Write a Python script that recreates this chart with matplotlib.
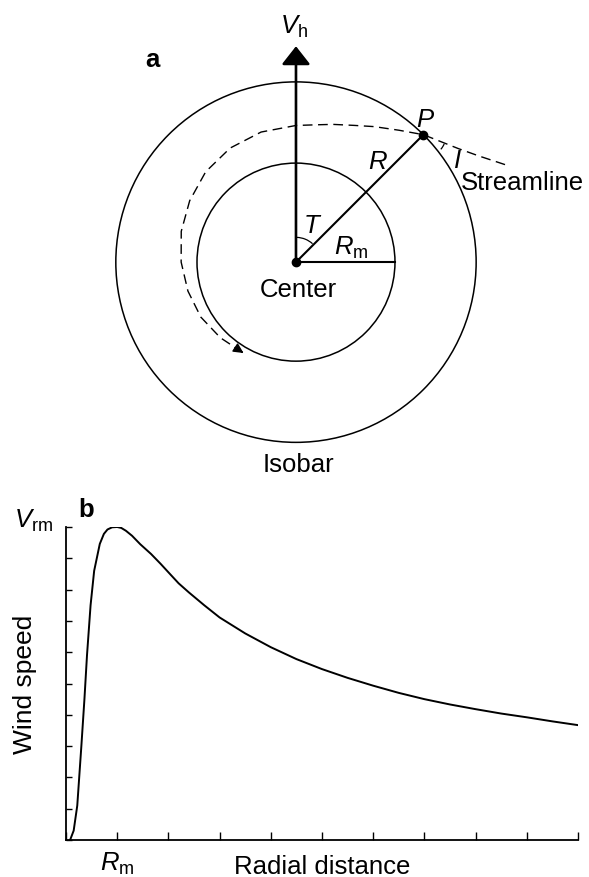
import matplotlib.pyplot as plt
import numpy as np
from matplotlib.patches import Circle, Arc

plt.rcParams['font.family'] = ['Liberation Sans', 'DejaVu Sans']
plt.rcParams['mathtext.fontset'] = 'custom'
plt.rcParams['mathtext.rm'] = 'Liberation Sans'
plt.rcParams['mathtext.it'] = 'Liberation Sans:italic'

# panel a: geometry in units of R_m
r_inner = 1.0
r_outer = 1.82
angle_p = 45       # position of P on the outer isobar (deg)
vh_length = 2.18   # length of the V_h arrow

# dashed streamline spiralling in (polar: angle in deg, radius in R_m)
stream_angle = [25, 30, 35, 45, 52, 60, 67, 75, 82, 90, 105, 120, 135, 150, 165, 180, 195,
                210, 225, 240]
stream_radius = [2.33, 2.14, 2.0, 1.82, 1.69, 1.58, 1.50, 1.44, 1.40, 1.38, 1.36, 1.33, 1.29,
                 1.24, 1.20, 1.16, 1.13, 1.11, 1.08, 1.06]

# panel b: wind speed profile (x in R_m, y as fraction of V_rm)
radial_dist = [0.08, 0.15, 0.22, 0.30, 0.36, 0.41, 0.48, 0.55, 0.66, 0.74, 0.81, 0.90, 1.0,
               1.08, 1.17, 1.29, 1.45, 1.66, 1.85, 2.03, 2.2, 2.4, 2.7, 3.0, 3.5, 4.0, 4.5,
               5.0, 5.5, 6.0, 6.5, 7.0, 7.5, 8.0, 8.5, 9.0, 9.5, 10.0]
wind_speed = [0.0, 0.03, 0.11, 0.30, 0.45, 0.59, 0.75, 0.86, 0.946, 0.978, 0.992, 0.999, 1.0,
              0.997, 0.988, 0.972, 0.945, 0.914, 0.882, 0.85, 0.82, 0.791, 0.75, 0.711, 0.66,
              0.616, 0.578, 0.546, 0.518, 0.493, 0.47, 0.45, 0.433, 0.418, 0.404, 0.392,
              0.379, 0.367]

x_ticks = np.arange(0, 11)
y_ticks = np.arange(0, 11) / 10

fs = 18.5

fig = plt.figure(figsize=(5.89, 8.78), dpi=100)

# ---------------- panel a ----------------
ax = fig.add_axes([0, 398 / 878, 1, 480 / 878])
ax.set_xlim(-2.99, 2.96)
ax.set_ylim(-2.19, 2.657)
ax.axis('off')

ax.add_patch(Circle((0, 0), r_inner, fill=False, lw=1.1, color='black'))
ax.add_patch(Circle((0, 0), r_outer, fill=False, lw=1.1, color='black'))

ax.annotate('', xy=(0, vh_length), xytext=(0, 0),
            arrowprops=dict(arrowstyle='-|>,head_length=0.7,head_width=0.55', lw=1.9,
                            mutation_scale=16, color='black', shrinkA=0, shrinkB=0))

px = r_outer * np.cos(np.radians(angle_p))
py = r_outer * np.sin(np.radians(angle_p))
ax.plot([0, px], [0, py], color='black', lw=1.5)
ax.plot([0, r_inner], [0, 0], color='black', lw=1.5)
ax.plot([0, px], [0, py], 'o', color='black', ms=6)

th = np.radians(stream_angle)
sx = np.array(stream_radius) * np.cos(th)
sy = np.array(stream_radius) * np.sin(th)
ax.plot(sx, sy, color='black', lw=1.0, ls=(0, (7, 4)))
d = np.array([sx[-1] - sx[-2], sy[-1] - sy[-2]])
d = d / np.hypot(*d)
ax.annotate('', xy=(sx[-1], sy[-1]), xytext=(sx[-1] - 0.1 * d[0], sy[-1] - 0.1 * d[1]),
            arrowprops=dict(arrowstyle='-|>,head_length=0.6,head_width=0.3', lw=1.0,
                            mutation_scale=10, color='black', shrinkA=0, shrinkB=0))

# angle marks
ax.add_patch(Arc((0, 0), 0.5, 0.5, theta1=48, theta2=88, lw=0.9, color='black'))
ax.add_patch(Arc((px, py), 0.46, 0.46, theta1=-40, theta2=-24, lw=0.9, color='black'))

ax.text(-0.16, 2.32, r'$V_{\rm h}$', fontsize=fs, ha='left', va='baseline')
ax.text(-1.45, 2.05, 'a', fontsize=fs, fontweight='bold', ha='center', va='center')
ax.text(1.21, 1.37, 'P', fontsize=fs, style='italic', ha='left', va='baseline')
ax.text(0.82, 1.02, 'R', fontsize=fs, style='italic', ha='center', va='center')
ax.text(0.16, 0.37, 'T', fontsize=fs, style='italic', ha='center', va='center')
ax.text(0.38, 0.08, r'$R_{\rm m}$', fontsize=fs, ha='left', va='baseline')
ax.text(0.02, -0.34, 'Center', fontsize=fs, ha='center', va='baseline')
ax.text(1.63, 1.03, 'I', fontsize=fs, style='italic', ha='center', va='center')
ax.text(1.67, 0.74, 'Streamline', fontsize=fs, ha='left', va='baseline')
ax.text(0.02, -2.11, 'Isobar', fontsize=fs, ha='center', va='baseline')

# ---------------- panel b ----------------
bx = fig.add_axes([66 / 589, 37 / 878, 512 / 589, 313 / 878])
bx.plot(radial_dist, wind_speed, color='black', lw=1.4)
bx.set_xlim(0, 10)
bx.set_ylim(0, 1)
bx.spines[['top', 'right']].set_visible(False)
bx.spines[['left', 'bottom']].set_linewidth(1.3)

bx.set_xticks(x_ticks, ['', r'$R_{\rm m}$'] + [''] * 9)
bx.set_yticks(y_ticks, [''] * 11)
bx.tick_params(axis='x', direction='in', length=5.5, width=1, pad=7, labelsize=fs)
bx.tick_params(axis='y', direction='in', length=4, width=1)

bx.text(-0.025, 1.0, r'$V_{\rm rm}$', fontsize=fs, ha='right', va='baseline',
        transform=bx.get_yaxis_transform())
bx.text(0.039, 1.057, 'b', fontsize=fs, fontweight='bold', ha='center', va='center',
        transform=bx.transAxes)
bx.text(-0.08, 0.5, 'Wind speed', fontsize=19, rotation=90, ha='center', va='center',
        transform=bx.transAxes)
bx.set_xlabel('Radial distance', fontsize=fs)
bx.xaxis.set_label_coords(0.5, -0.045)

fig.savefig('out.png', dpi=100)
